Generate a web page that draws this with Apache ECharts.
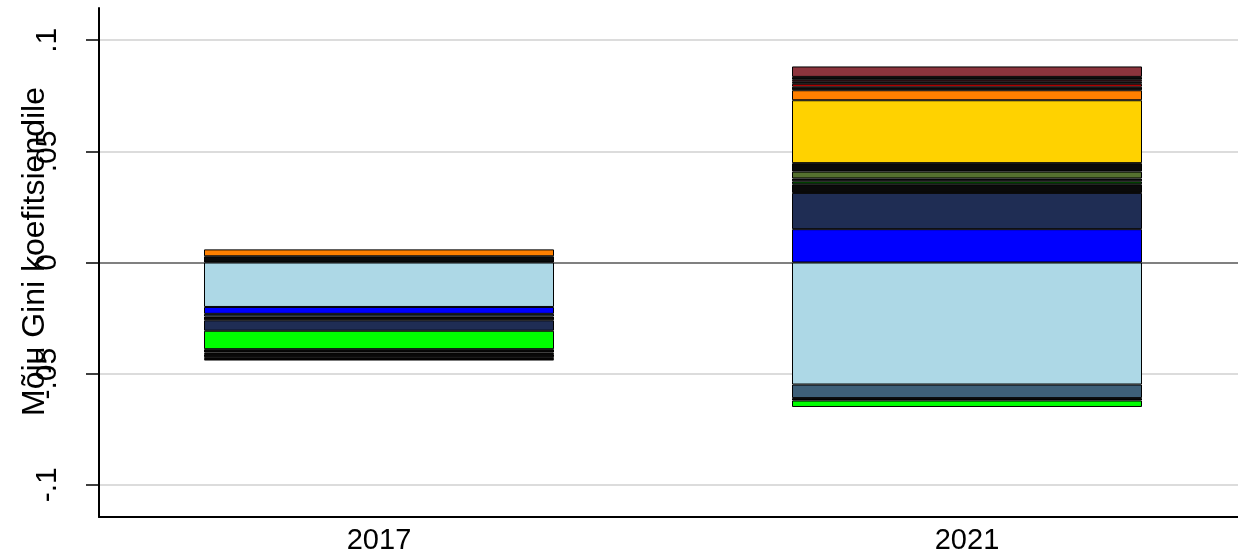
<!DOCTYPE html>
<html>
<head>
<meta charset="utf-8">
<script src="https://cdn.jsdelivr.net/npm/echarts@6/dist/echarts.min.js"></script>
<style>
  html, body { margin: 0; padding: 0; background: #fff; }
  #chart { width: 1238px; height: 557px; }
</style>
</head>
<body>
<div id="chart"></div>
<script>
// Years on the horizontal axis
const years = ['2017', '2021'];

// Decomposition components, in stacking order (closest to zero first)
const components = ['c01', 'c02', 'c03', 'c04', 'c05', 'c06', 'c07', 'c08', 'c09', 'c10',
                    'c11', 'c12', 'c13', 'c14', 'c15', 'c16', 'c17', 'c18', 'c19'];
const componentColors = ['#ADD8E6', '#0000FF', '#3E6079', '#0A0A0A', '#1F2D54', '#0A0A0A',
                         '#00FF00', '#006400', '#0A0A0A', '#55702F', '#0A0A0A', '#FFD200',
                         '#FF8000', '#0A0A0A', '#FF0000', '#0A0A0A', '#C8102E', '#0A0A0A', '#8C343D'];

// Contribution of each component to the Gini coefficient
const values2017 = [-0.0200, -0.0031, -0.0012, -0.0017, -0.0047, 0, -0.0083, 0, -0.0015, -0.0007,
                    0.0028, 0, 0.0031, -0.0014, 0, -0.0008, 0, 0, -0.0007];
const values2021 = [-0.0549, 0.0150, -0.0061, -0.0011, 0.0163, 0.0039, -0.0029, 0.0013, 0.0013, 0.0031,
                    0.0038, 0.0283, 0.0045, 0.0016, 0.0013, 0.0009, 0.0009, 0.0013, 0.0047];

// Y axis ticks and labels
const yTicks = [-0.1, -0.05, 0, 0.05, 0.1];
const yTickLabels = ['-.1', '-.05', '0', '.05', '.1'];
const yTitle = 'Mõju Gini koefitsiendile';

const Y_MIN = -0.1145, Y_MAX = 0.1145;
const FONT = '"Liberation Sans", Arial, sans-serif';

// Stacked bars live in grid 0 (category axis); grid 1 carries the visible frame, ticks and gridlines
const series = components.map((name, i) => ({
  name: name,
  type: 'bar',
  stack: 'gini',
  stackStrategy: 'samesign',
  xAxisIndex: 0,
  yAxisIndex: 0,
  barWidth: 350,
  z: 3,
  itemStyle: { color: componentColors[i], borderColor: '#000', borderWidth: 1 },
  emphasis: { disabled: true },
  data: [values2017[i], values2021[i]].map((v) => (v === 0 ? '-' : v))
}));

const chart = echarts.init(document.getElementById('chart'), null, { renderer: 'canvas' });
chart.setOption({
  animation: false,
  backgroundColor: '#fff',
  grid: [
    { left: 85, width: 1176, top: 8, bottom: 40, containLabel: false, outerBoundsMode: 'none' },
    { left: 99, right: 0, top: 8, bottom: 40, containLabel: false, outerBoundsMode: 'none' }
  ],
  xAxis: [
    {
      gridIndex: 0,
      type: 'category',
      data: years,
      boundaryGap: true,
      axisLine: { show: false },
      axisTick: { show: false },
      splitLine: { show: false },
      axisLabel: { color: '#000', fontSize: 29, fontFamily: FONT, margin: 9 }
    },
    {
      gridIndex: 1,
      type: 'value',
      min: 0,
      max: 1,
      axisLine: { show: true, onZero: false, lineStyle: { color: '#000', width: 2 } },
      axisTick: { show: false },
      axisLabel: { show: false },
      splitLine: { show: false }
    }
  ],
  yAxis: [
    {
      gridIndex: 0,
      type: 'value',
      min: Y_MIN,
      max: Y_MAX,
      show: false,
      splitLine: { show: false }
    },
    {
      gridIndex: 1,
      type: 'value',
      min: Y_MIN,
      max: Y_MAX,
      name: yTitle,
      nameLocation: 'middle',
      nameRotate: 90,
      nameGap: 48,
      nameMoveOverlap: false,
      nameTextStyle: { color: '#000', fontSize: 32, fontFamily: FONT, padding: [0, 0, 0, 22] },
      axisLine: { show: true, onZero: false, lineStyle: { color: '#000', width: 2 } },
      axisTick: { show: true, length: 13, customValues: yTicks, lineStyle: { color: '#000', width: 1.5 } },
      axisLabel: {
        customValues: yTicks,
        rotate: 90,
        margin: 36,
        formatter: (v) => yTickLabels[yTicks.findIndex((t) => Math.abs(t - v) < 1e-9)],
        color: '#000', fontSize: 30, fontFamily: FONT
      },
      splitLine: {
        show: true,
        lineStyle: { color: ['#DCDCDC', '#DCDCDC', '#808080', '#DCDCDC', '#DCDCDC'], width: 2 }
      }
    }
  ],
  series: series
});
</script>
</body>
</html>
